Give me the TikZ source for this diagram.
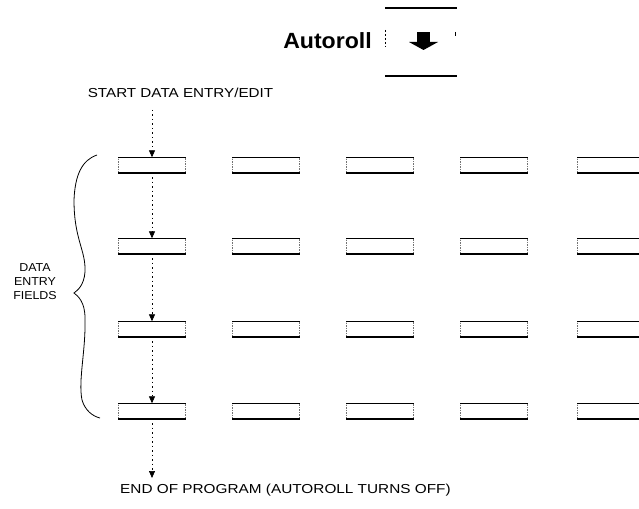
\documentclass[tikz,border=0pt]{standalone}
\usepackage{fontspec}
\setmainfont{Liberation Sans}
\usetikzlibrary{arrows.meta}
\begin{document}
\begin{tikzpicture}[x=1pt,y=-1pt,
  field/.style={draw=black!55,line width=0.4pt,dash pattern=on 1.5pt off 1pt,minimum width=67pt,minimum height=15pt,inner sep=0pt},
  thickedge/.style={line width=1.6pt},
  flow/.style={line width=0.7pt,dash pattern=on 1.5pt off 3pt,-{Triangle[width=6pt,length=7pt]}},
  lbl/.style={font=\fontsize{13}{15}\selectfont,inner sep=0pt}]
\useasboundingbox (0,0) rectangle (639,508);
\begin{scope}
\clip (0,0) rectangle (639,508);
% fields
\foreach \r/\y in {1/165,2/246,3/329,4/411}{
  \foreach \c/\x in {1/152,2/266,3/380,4/494,5/611}{
    \node[field] (f\r\c) at (\x,\y) {};
    \draw[thickedge] (f\r\c.north west) -- (f\r\c.north east);
    \draw[thickedge] (f\r\c.south west) -- (f\r\c.south east);
  }
}
\end{scope}
% Autoroll key
\node[font=\fontsize{22}{24}\selectfont\bfseries,inner sep=0pt,anchor=east,xscale=1.05] (auto) at (372,41) {Autoroll};
\coordinate (ktl) at (385,8);
\coordinate (ktr) at (457,8);
\coordinate (kbl) at (385,76);
\coordinate (kbr) at (457,76);
\draw[line width=1.2pt] (ktl) -- (ktr);
\draw[line width=1.2pt] (kbl) -- (kbr);
\draw[line width=0.6pt,dash pattern=on 2pt off 2pt] (385,30) -- (385,47);
\draw[line width=0.6pt] (455,32) -- (455,36);
\fill (417,32) rectangle (430,42);
\fill (409,42) -- (438,42) -- (423.5,50) -- cycle;
% texts
\node[lbl,xscale=1.17] (start) at (180.5,93) {START DATA ENTRY/EDIT};
\node[lbl,xscale=1.18,anchor=west] (endp) at (120,490) {END OF PROGRAM (AUTOROLL TURNS OFF)};
\node[lbl,align=center,font=\fontsize{11.5}{14}\selectfont,xscale=1.08] (def) at (35,282) {DATA\\ENTRY\\FIELDS};
% flow arrows
\draw[flow] (start.south -| f11.north) ++(0,12) -- (f11.north);
\draw[flow] (f11.south) -- (f21.north);
\draw[flow] (f21.south) -- (f31.north);
\draw[flow] (f31.south) -- (f41.north);
\coordinate (endtop) at (f41.south |- 478,478);
\draw[flow] (f41.south) -- (endtop);
% brace
\draw[line width=0.8pt] (97,155) .. controls (82,160) and (75,175) .. (74,200)
  .. controls (74,240) and (86,250) .. (85,272)
  .. controls (84,285) and (78,290) .. (74,293)
  .. controls (78,296) and (85,302) .. (85,318)
  .. controls (86,350) and (78,380) .. (82,400)
  .. controls (85,410) and (92,416) .. (100,418);
\end{tikzpicture}
\end{document}
